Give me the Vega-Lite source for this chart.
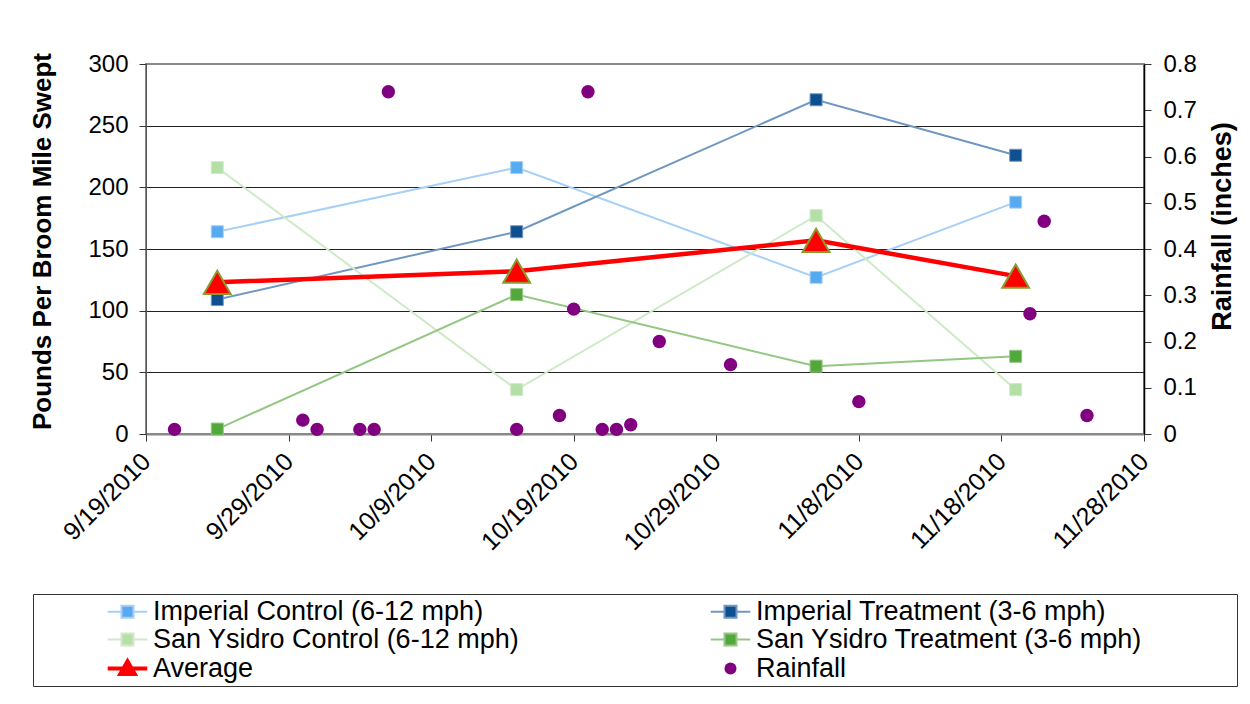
{
  "$schema": "https://vega.github.io/schema/vega-lite/v6.json",
  "width": 998,
  "height": 370,
  "autosize": {"type": "none"},
  "padding": {"left": 146, "top": 64, "right": 106, "bottom": 270},
  "background": "white",
  "config": {
    "font": "Liberation Sans",
    "view": {"stroke": "#888888", "strokeWidth": 2},
    "axis": {
      "labelFont": "Liberation Sans",
      "titleFont": "Liberation Sans",
      "labelColor": "#000000",
      "titleColor": "#000000",
      "labelFontSize": 24,
      "titleFontSize": 26,
      "titleFontWeight": "bold",
      "tickColor": "#333333",
      "domainColor": "#333333",
      "tickSize": 7
    },
    "legend": {
      "orient": "none",
      "legendX": -113,
      "legendY": 530,
      "direction": "horizontal",
      "columns": 2,
      "strokeColor": "#333333",
      "padding": 4,
      "symbolSize": 144,
      "symbolOffset": 77,
      "symbolStrokeWidth": 2,
      "labelOffset": 12,
      "labelFont": "Liberation Sans",
      "labelFontSize": 27,
      "labelColor": "#000000",
      "labelLimit": 900,
      "columnPadding": 120,
      "rowPadding": 0
    }
  },
  "datasets": {
    "sweep": [
      {"date": "2010/09/24", "series": "Imperial Control (6-12 mph)", "value": 164},
      {"date": "2010/10/15", "series": "Imperial Control (6-12 mph)", "value": 216},
      {"date": "2010/11/05", "series": "Imperial Control (6-12 mph)", "value": 127},
      {"date": "2010/11/19", "series": "Imperial Control (6-12 mph)", "value": 188},
      {"date": "2010/09/24", "series": "Imperial Treatment (3-6 mph)", "value": 109},
      {"date": "2010/10/15", "series": "Imperial Treatment (3-6 mph)", "value": 164},
      {"date": "2010/11/05", "series": "Imperial Treatment (3-6 mph)", "value": 271},
      {"date": "2010/11/19", "series": "Imperial Treatment (3-6 mph)", "value": 226},
      {"date": "2010/09/24", "series": "San Ysidro Control (6-12 mph)", "value": 216},
      {"date": "2010/10/15", "series": "San Ysidro Control (6-12 mph)", "value": 36},
      {"date": "2010/11/05", "series": "San Ysidro Control (6-12 mph)", "value": 177},
      {"date": "2010/11/19", "series": "San Ysidro Control (6-12 mph)", "value": 36},
      {"date": "2010/09/24", "series": "San Ysidro Treatment (3-6 mph)", "value": 4},
      {"date": "2010/10/15", "series": "San Ysidro Treatment (3-6 mph)", "value": 113},
      {"date": "2010/11/05", "series": "San Ysidro Treatment (3-6 mph)", "value": 55},
      {"date": "2010/11/19", "series": "San Ysidro Treatment (3-6 mph)", "value": 63},
      {"date": "2010/09/24", "series": "Average", "value": 123},
      {"date": "2010/10/15", "series": "Average", "value": 132},
      {"date": "2010/11/05", "series": "Average", "value": 157},
      {"date": "2010/11/19", "series": "Average", "value": 128}
    ],
    "rain": [
      {"date": "2010/09/21", "series": "Rainfall", "rain": 0.01},
      {"date": "2010/09/30", "series": "Rainfall", "rain": 0.03},
      {"date": "2010/10/01", "series": "Rainfall", "rain": 0.01},
      {"date": "2010/10/04", "series": "Rainfall", "rain": 0.01},
      {"date": "2010/10/05", "series": "Rainfall", "rain": 0.01},
      {"date": "2010/10/06", "series": "Rainfall", "rain": 0.74},
      {"date": "2010/10/15", "series": "Rainfall", "rain": 0.01},
      {"date": "2010/10/18", "series": "Rainfall", "rain": 0.04},
      {"date": "2010/10/19", "series": "Rainfall", "rain": 0.27},
      {"date": "2010/10/20", "series": "Rainfall", "rain": 0.74},
      {"date": "2010/10/21", "series": "Rainfall", "rain": 0.01},
      {"date": "2010/10/22", "series": "Rainfall", "rain": 0.01},
      {"date": "2010/10/23", "series": "Rainfall", "rain": 0.02},
      {"date": "2010/10/25", "series": "Rainfall", "rain": 0.20},
      {"date": "2010/10/30", "series": "Rainfall", "rain": 0.15},
      {"date": "2010/11/08", "series": "Rainfall", "rain": 0.07},
      {"date": "2010/11/20", "series": "Rainfall", "rain": 0.26},
      {"date": "2010/11/21", "series": "Rainfall", "rain": 0.46},
      {"date": "2010/11/24", "series": "Rainfall", "rain": 0.04}
    ]
  },
  "encoding": {
    "x": {
      "field": "date",
      "type": "temporal",
      "scale": {"domain": [{"year": 2010, "month": 9, "date": 19}, {"year": 2010, "month": 11, "date": 28}]},
      "axis": {
        "title": null,
        "grid": false,
        "values": [
          {"year": 2010, "month": 9, "date": 19},
          {"year": 2010, "month": 9, "date": 29},
          {"year": 2010, "month": 10, "date": 9},
          {"year": 2010, "month": 10, "date": 19},
          {"year": 2010, "month": 10, "date": 29},
          {"year": 2010, "month": 11, "date": 8},
          {"year": 2010, "month": 11, "date": 18},
          {"year": 2010, "month": 11, "date": 28}
        ],
        "format": "%-m/%-d/%Y",
        "labelAngle": -45,
        "labelAlign": "right",
        "labelBaseline": "middle",
        "labelFontSize": 25,
        "labelPadding": 16,
        "domainColor": "#888888",
        "domainWidth": 2,
        "labelOverlap": false,
        "labelBound": false
      }
    }
  },
  "layer": [
    {
      "data": {"name": "sweep"},
      "encoding": {
        "y": {
          "field": "value",
          "type": "quantitative",
          "scale": {"domain": [0, 300], "nice": false, "zero": true},
          "axis": {
            "orient": "left",
            "title": "Pounds Per Broom Mile Swept",
            "titlePadding": 32,
            "titleY": 177,
            "values": [0, 50, 100, 150, 200, 250, 300],
            "grid": true,
            "gridColor": {"condition": {"test": "datum.value === 300", "value": "#888888"}, "value": "#222222"},
            "gridWidth": 1,
            "labelPadding": 11,
            "domainColor": "#555555"
          }
        }
      },
      "layer": [
        {
          "transform": [{"filter": "datum.series !== 'Average'"}],
          "mark": {"type": "line", "strokeWidth": 2},
          "encoding": {
            "stroke": {
              "field": "series",
              "type": "nominal",
              "scale": {
                "domain": ["Imperial Control (6-12 mph)", "Imperial Treatment (3-6 mph)", "San Ysidro Control (6-12 mph)", "San Ysidro Treatment (3-6 mph)", "Average", "Rainfall"],
                "range": ["#a6d0f5", "#6f97c2", "#cfeac6", "#93c783", "#ff0000", "transparent"]
              },
              "legend": {
                "title": null,
                "labelExpr": "datum.label === 'San Ysidro Treatment (3-6 mph)' ? datum.label + '\u00a0\u00a0\u00a0\u00a0\u00a0\u00a0\u00a0\u00a0\u00a0\u00a0\u00a0\u00a0\u200b' : datum.label",
                "encode": {
                  "symbols": {
                    "update": {
                      "shape": {"signal": "datum.value === 'Rainfall' ? 'circle' : (datum.value === 'Average' ? 'M-3.3,0L3.3,0M0,-1.2L1.2,0.9L-1.2,0.9Z' : 'M-3.3,0L-1,0M1,0L3.3,0M-1,-1L1,-1L1,1L-1,1Z')"},
                      "strokeWidth": {"signal": "datum.value === 'Average' ? 4 : 2"}
                    }
                  }
                }
              }
            }
          }
        },
        {
          "transform": [{"filter": "datum.series === 'Average'"}],
          "mark": {"type": "line", "strokeWidth": 4.5},
          "encoding": {
            "stroke": {"field": "series", "type": "nominal", "legend": {"title": null}}
          }
        },
        {
          "transform": [{"filter": "datum.series !== 'Average'"}],
          "mark": {"type": "point", "shape": "square", "filled": true, "size": 144, "strokeWidth": 1, "opacity": 1},
          "encoding": {
            "fill": {
              "field": "series",
              "type": "nominal",
              "scale": {
                "domain": ["Imperial Control (6-12 mph)", "Imperial Treatment (3-6 mph)", "San Ysidro Control (6-12 mph)", "San Ysidro Treatment (3-6 mph)", "Average", "Rainfall"],
                "range": ["#58aaf0", "#0e4f8f", "#b4dfa7", "#52a83a", "#ff0000", "#800080"]
              },
              "legend": {
                "title": null,
                "labelExpr": "datum.label === 'San Ysidro Treatment (3-6 mph)' ? datum.label + '\u00a0\u00a0\u00a0\u00a0\u00a0\u00a0\u00a0\u00a0\u00a0\u00a0\u00a0\u00a0\u200b' : datum.label",
                "encode": {
                  "symbols": {
                    "update": {
                      "shape": {"signal": "datum.value === 'Rainfall' ? 'circle' : (datum.value === 'Average' ? 'M-3.3,0L3.3,0M0,-1.2L1.2,0.9L-1.2,0.9Z' : 'M-3.3,0L-1,0M1,0L3.3,0M-1,-1L1,-1L1,1L-1,1Z')"},
                      "strokeWidth": {"signal": "datum.value === 'Average' ? 4 : 2"}
                    }
                  }
                }
              }
            },
            "stroke": {"field": "series", "type": "nominal", "legend": {"title": null}}
          }
        },
        {
          "transform": [{"filter": "datum.series === 'Average'"}],
          "mark": {"type": "point", "shape": "triangle-up", "filled": true, "size": 720, "stroke": "#8b9b2b", "strokeWidth": 2, "opacity": 1},
          "encoding": {
            "fill": {"field": "series", "type": "nominal", "legend": {"title": null}}
          }
        }
      ]
    },
    {
      "data": {"name": "rain"},
      "mark": {"type": "point", "shape": "circle", "filled": true, "size": 180, "opacity": 1, "strokeWidth": 0},
      "encoding": {
        "y": {
          "field": "rain",
          "type": "quantitative",
          "scale": {"domain": [0, 0.8], "nice": false},
          "axis": {
            "orient": "right",
            "title": "Rainfall (inches)",
            "titleAngle": 270,
            "titleFontSize": 27,
            "titlePadding": 40,
            "titleY": 162,
            "values": [0, 0.1, 0.2, 0.3, 0.4, 0.5, 0.6, 0.7, 0.8],
            "format": ".1~f",
            "grid": false,
            "labelPadding": 12,
            "domainColor": "#000000",
            "domainWidth": 1.5
          }
        },
        "fill": {"field": "series", "type": "nominal", "legend": {"title": null}}
      }
    }
  ],
  "resolve": {"scale": {"y": "independent"}}
}
